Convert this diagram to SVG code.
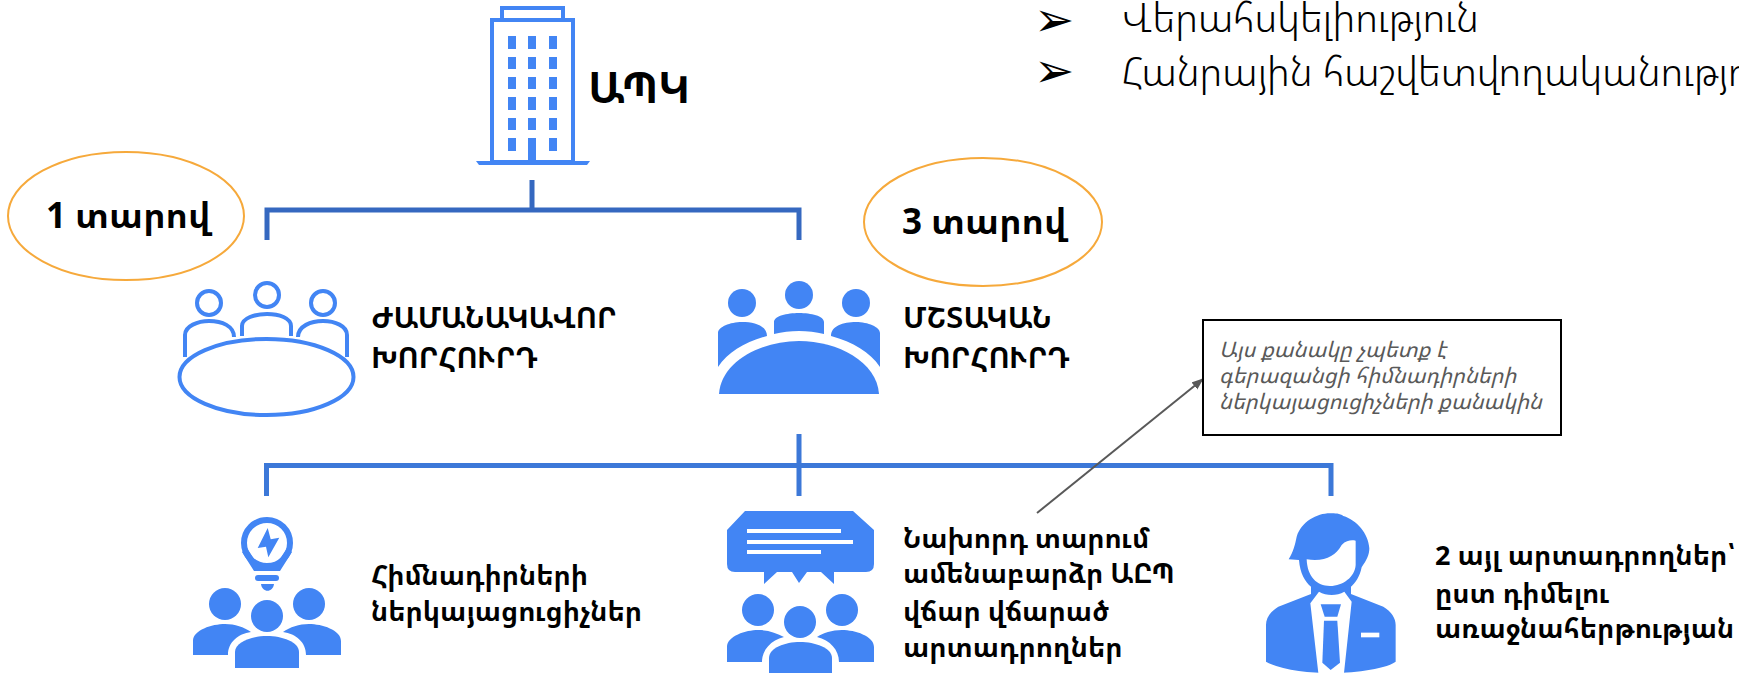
<svg xmlns="http://www.w3.org/2000/svg" width="1739" height="673" viewBox="0 0 1739 673">
<style>
text{font-family:"Noto Sans Armenian","Noto Sans","DejaVu Sans",sans-serif;fill:#000}
.b{font-weight:700}
.l{font-size:27px;font-weight:700}
.cap{font-size:29px;font-weight:700}
.t{font-size:35px;font-weight:700}
.top{font-size:40px;font-weight:300}
.bul{font-family:"DejaVu Sans",sans-serif;font-size:48px}
.note{font-size:21.500px;font-style:italic;fill:#595959}
.i{fill:#4285f4}
.o{fill:none;stroke:#4285f4;stroke-width:4}
.w{fill:#fff}
.c1{fill:none;stroke:#3568c0;stroke-width:5}
.c2{fill:none;stroke:#3c78d8;stroke-width:5}
.e{fill:#fff;stroke:#f6a93b;stroke-width:2}
</style>
<defs>
<marker id="arr" markerWidth="12" markerHeight="10" refX="11" refY="4.5" orient="auto" markerUnits="userSpaceOnUse"><path d="M0,0L12,4.5L0,9Z" fill="#595959"/></marker>
</defs>
<g id="connectors">
<path class="c1" d="M532,180V210M267,240V210H799V240"/>
<path class="c2" d="M799,434V496M266.500,496V465.500H1331V496"/>
<path d="M1037,513L1203,379" fill="none" stroke="#595959" stroke-width="2" marker-end="url(#arr)"/>
</g>
<g id="apk">
<rect class="o" x="502" y="8" width="61" height="12"/>
<rect class="o" x="492" y="20" width="81" height="142"/>
<path class="i" d="M476,161H590L587,165H479Z"/>
<g class="i">
<rect x="508" y="36" width="8" height="13"/><rect x="528" y="36" width="8" height="13"/><rect x="549" y="36" width="8" height="13"/>
<rect x="508" y="57" width="8" height="12"/><rect x="528" y="57" width="8" height="12"/><rect x="549" y="57" width="8" height="12"/>
<rect x="508" y="77" width="8" height="12"/><rect x="528" y="77" width="8" height="12"/><rect x="549" y="77" width="8" height="12"/>
<rect x="508" y="97" width="8" height="13"/><rect x="528" y="97" width="8" height="13"/><rect x="549" y="97" width="8" height="13"/>
<rect x="508" y="118" width="8" height="12"/><rect x="528" y="118" width="8" height="12"/><rect x="549" y="118" width="8" height="12"/>
<rect x="508" y="138" width="8" height="13"/><rect x="528" y="138" width="8" height="24"/><rect x="549" y="138" width="8" height="13"/>
</g>
<text x="588" y="103" class="b" font-size="43">ԱՊԿ</text>
</g>
<g id="bullets">
<text x="1034" y="36" class="bul">➢</text>
<text class="top" x="1122" y="32">Վերահսկելիություն</text>
<text x="1034" y="87" class="bul">➢</text>
<text class="top" x="1122" y="86">Հանրային հաշվետվողականություն</text>
</g>
<g id="one-year">
<ellipse class="e" cx="126" cy="216" rx="118" ry="64"/>
<text x="46" y="228" class="t">1 տարով</text>
</g>
<g id="three-years">
<ellipse class="e" cx="983" cy="222" rx="119" ry="64"/>
<text x="902" y="234" class="t">3 տարով</text>
</g>
<g id="temporary-council">
<circle class="o" cx="209" cy="303" r="12"/><circle class="o" cx="267" cy="295" r="12"/><circle class="o" cx="323" cy="303" r="12"/>
<path class="o" d="M185,357V335C185,326 198,321 209,321C222,321 234,326 234,337"/>
<path class="o" d="M242,336V326C242,318 255,314 267,314C279,314 291,318 291,326V336"/>
<path class="o" d="M298,337C298,326 311,321 323,321C335,321 347,326 347,335V357"/>
<ellipse class="o" cx="266.500" cy="377" rx="87" ry="38"/>
<text class="cap" x="371" y="328">ԺԱՄԱՆԱԿԱՎՈՐ</text>
<text class="cap" x="371" y="368">ԽՈՐՀՈՒՐԴ</text>
</g>
<g id="standing-council">
<g class="i">
<circle cx="742" cy="303" r="14"/><circle cx="799" cy="295" r="14"/><circle cx="856" cy="303" r="14"/>
<path d="M718,367V333C718,327 730,322 742,322C755,322 767,326 767,336C745,342 728,352 718,367Z"/>
<path d="M880,367V333C880,327 868,322 856,322C843,322 831,326 831,336C853,342 870,352 880,367Z"/>
<path d="M774,334V322C774,316 787,313 799,313C811,313 824,316 824,322V334C808,330 790,330 774,334Z"/>
<path d="M719,394C721,362 760,341 799,341C838,341 877,362 879,394Z"/>
</g>
<text class="cap" x="903" y="328">ՄՇՏԱԿԱՆ</text>
<text class="cap" x="903" y="368">ԽՈՐՀՈՒՐԴ</text>
</g>
<g id="note">
<rect x="1203" y="320" width="358" height="115" fill="#fff" stroke="#000" stroke-width="2"/>
<text class="note" x="1219" y="357">Այս քանակը չպետք է</text>
<text class="note" x="1219" y="383">գերազանցի հիմնադիրների</text>
<text class="note" x="1219" y="409">ներկայացուցիչների քանակին</text>
</g>
<g id="founders">
<circle cx="267" cy="543" r="23" fill="none" stroke="#4285f4" stroke-width="6"/>
<path class="i" d="M242,552L254,571H280L292,552L287,548L276,565H258L247,548Z"/>
<rect class="i" x="255" y="575" width="24" height="6" rx="3"/>
<path class="i" d="M261,584H274C273,593 262,593 261,584Z"/>
<path class="i" d="M267.700,528L257.700,548L266,546.700L268.300,557.300L279.300,537.700L270.700,539.300Z"/>
<circle class="i" cx="225" cy="604" r="16"/><circle class="i" cx="267" cy="616" r="16"/><circle class="i" cx="309" cy="604" r="16"/>
<path class="i" d="M193,655V641C193,630 212,624 225,624C235,624 244,627 251,632C238,634 228,642 228,655Z"/>
<path class="i" d="M341,655V641C341,630 322,624 309,624C299,624 290,627 283,632C296,634 306,642 306,655Z"/>
<path class="i" d="M235,668V652C235,642 252,636 267,636C282,636 299,642 299,652V668Z"/>
<text class="l" x="371" y="585">Հիմնադիրների</text>
<text class="l" x="371" y="621">ներկայացուցիչներ</text>
</g>
<g id="top-producers">
<path class="i" d="M745,511H853L874,530V564Q874,572 866,572H834V584L821,572H807L799,583L792,572H777L764,584V572H735Q727,572 727,564V530Z"/>
<rect class="w" x="747" y="529" width="94" height="4"/><rect class="w" x="747" y="540" width="106" height="4"/><rect class="w" x="747" y="550" width="74" height="4"/>
<circle class="i" cx="758" cy="610" r="16"/><circle class="i" cx="800" cy="622" r="16"/><circle class="i" cx="842" cy="610" r="16"/>
<path class="i" d="M727,662V647C727,636 746,630 758,630C768,630 777,633 784,637C771,640 762,650 762,662Z"/>
<path class="i" d="M874,662V647C874,636 855,630 842,630C832,630 823,633 817,637C830,640 839,650 839,662Z"/>
<path class="i" d="M769,673V658C769,648 785,642 800,642C815,642 832,648 832,658V673Z"/>
<text class="l" x="903" y="548">Նախորդ տարում</text>
<text class="l" x="903" y="583">ամենաբարձր ԱԸՊ</text>
<text class="l" x="903" y="621">վճար վճարած</text>
<text class="l" x="903" y="657">արտադրողներ</text>
</g>
<g id="other-producers">
<g transform="translate(1250,490) scale(.3333)">
<path class="i" d="M116,208C130,185 135,165 140,140C155,95 200,70 240,70C255,70 270,70 280,78C320,90 355,130 358,175C358,195 350,210 335,232C330,260 315,280 303,290V312L400,350C425,365 437,385 437,405V515C400,540 300,549 240,549C180,549 90,540 48,515V405C48,385 60,365 85,350L183,312V290C165,275 150,250 147,210Z"/>
<path class="w" d="M170,208C225,215 255,200 275,165C290,150 305,150 317,152V225C315,260 280,288 240,288C200,288 172,260 170,208Z"/>
<path class="w" d="M207,305C230,318 260,318 283,305L305,335L282,549H205L181,340Z"/>
<path class="i" d="M212,343H273L262,380H224Z"/>
<path class="i" d="M222,392H262L270,518L242,540L217,518Z"/>
<rect class="w" x="333" y="428" width="55" height="14"/>
</g>
<text class="l" x="1435" y="565">2 այլ արտադրողներ՝</text>
<text class="l" x="1435" y="603">ըստ դիմելու</text>
<text class="l" x="1435" y="638">առաջնահերթության</text>
</g>
</svg>
